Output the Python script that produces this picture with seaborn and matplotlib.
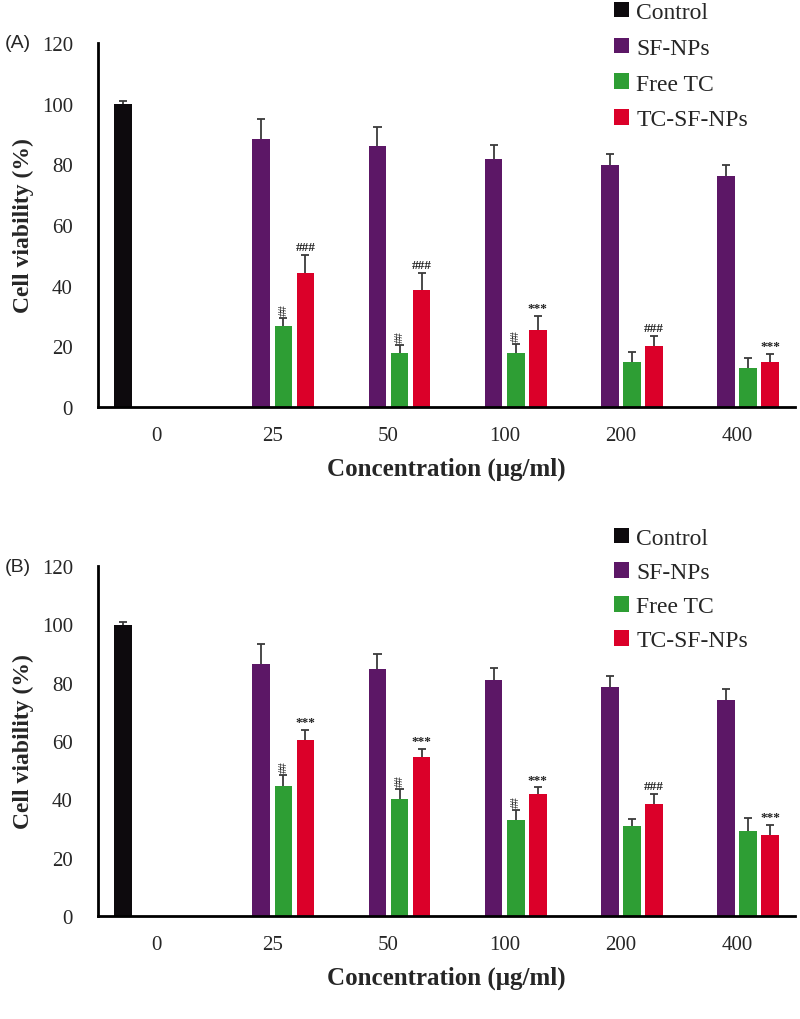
import matplotlib
matplotlib.use("Agg")
import matplotlib.pyplot as plt
import numpy as np
import pandas as pd
import seaborn as sns

concentrations = ["0", "25", "50", "100", "200", "400"]
groups = ["Control", "SF-NPs", "Free TC", "TC-SF-NPs"]
colors = ["#0d0a0d", "#5c1766", "#2e9e34", "#db0029"]

# panel A
a_control = [99.7]
a_control_err = [1.3]
a_sf = [88.4, 86.0, 81.8, 79.6, 76.2]
a_sf_err = [6.5, 6.2, 4.7, 3.9, 3.6]
a_free = [26.8, 17.8, 17.8, 14.8, 12.8]
a_free_err = [2.4, 2.5, 3.0, 3.3, 3.2]
a_tcsf = [44.0, 38.6, 25.5, 20.2, 14.8]
a_tcsf_err = [6.0, 5.5, 4.5, 3.3, 2.8]
a_free_marks = ["##", "##", "##", "", ""]
a_tcsf_marks = ["###", "###", "***", "###", "***"]

# panel B
b_control = [99.9]
b_control_err = [1.1]
b_sf = [86.4, 84.7, 80.9, 78.6, 74.2]
b_sf_err = [6.8, 5.3, 4.0, 3.8, 3.6]
b_free = [44.7, 40.1, 33.0, 31.0, 29.0]
b_free_err = [3.6, 3.4, 3.3, 2.2, 4.6]
b_tcsf = [60.4, 54.4, 41.8, 38.4, 27.9]
b_tcsf_err = [3.5, 2.9, 2.3, 3.4, 3.4]
b_free_marks = ["##", "##", "##", "", ""]
b_tcsf_marks = ["***", "***", "***", "###", "***"]

SERIF = "Liberation Serif"


def build_frame(control, control_err, sf, sf_err, free, free_err, tcsf, tcsf_err):
    rows = [("0", "Control", control[0], control_err[0])]
    for vals, errs, name in [(sf, sf_err, "SF-NPs"), (free, free_err, "Free TC"),
                             (tcsf, tcsf_err, "TC-SF-NPs")]:
        for c, v, e in zip(concentrations[1:], vals, errs):
            rows.append((c, name, v, e))
    return pd.DataFrame(rows, columns=["conc", "group", "viability", "err"])


def draw_panel(ax, df, free_marks, tcsf_marks, legend_top, legend_gap):
    sns.barplot(data=df, x="conc", y="viability", hue="group", order=concentrations,
                hue_order=groups, palette=colors, width=0.76, gap=0.2,
                errorbar=None, saturation=1, linewidth=0, ax=ax)

    for group, cont in zip(groups, ax.containers):
        sub = df[df["group"] == group]
        for bar in cont:
            xc = bar.get_x() + bar.get_width() / 2
            h = bar.get_height()
            conc = concentrations[int(round(xc))]
            e = sub.loc[sub["conc"] == conc, "err"].iloc[0]
            # upper-only error bar with a single cap
            ax.vlines(xc, h, h + e, color="#3a3a3a", lw=1.3, zorder=3)
            ax.hlines(h + e, xc - 0.035, xc + 0.035, color="#3a3a3a", lw=1.3, zorder=3)
            i = concentrations.index(conc) - 1
            if group == "Free TC" and free_marks[i]:
                ax.text(xc, h + e + 1.0, free_marks[i], rotation=90, ha="center",
                        va="bottom", fontsize=8.5, family=SERIF, color="#222222")
            if group == "TC-SF-NPs" and tcsf_marks[i]:
                ax.text(xc, h + e + 0.6, tcsf_marks[i], ha="center", va="bottom",
                        fontsize=9.5, family=SERIF, color="#222222", fontweight="bold")

    ax.set_ylim(0, 120)
    ax.set_yticks(range(0, 121, 20))
    ax.set_xlim(-0.5, 5.5)
    ax.tick_params(length=0, labelsize=15)
    for lab in ax.get_xticklabels() + ax.get_yticklabels():
        lab.set_family(SERIF)
    ax.tick_params(axis="x", pad=14)
    ax.tick_params(axis="y", pad=18)
    ax.set_xlabel("Concentration (μg/ml)", fontsize=18, fontweight="bold",
                  family=SERIF, labelpad=8)
    ax.set_ylabel("Cell viability (%)", fontsize=17, fontweight="bold",
                  family=SERIF, labelpad=6)
    sns.despine(ax=ax)
    for side in ["left", "bottom"]:
        ax.spines[side].set_linewidth(2)
        ax.spines[side].set_color("black")

    sns.move_legend(ax, "upper left", bbox_to_anchor=(0.74, legend_top), frameon=False,
                    title=None, prop={"family": SERIF, "size": 17},
                    handlelength=0.65, handleheight=0.65, handletextpad=0.3,
                    labelspacing=legend_gap, borderaxespad=0, borderpad=0)


sns.set_style("white")
fig = plt.figure(figsize=(8, 10.2), dpi=100)
ax_a = fig.add_axes([0.1225, 0.6, 0.8715, 0.357])
ax_b = fig.add_axes([0.1225, 0.101, 0.8715, 0.343])

df_a = build_frame(a_control, a_control_err, a_sf, a_sf_err, a_free, a_free_err,
                   a_tcsf, a_tcsf_err)
df_b = build_frame(b_control, b_control_err, b_sf, b_sf_err, b_free, b_free_err,
                   b_tcsf, b_tcsf_err)

draw_panel(ax_a, df_a, a_free_marks, a_tcsf_marks, 1.113, 0.62)
draw_panel(ax_b, df_b, b_free_marks, b_tcsf_marks, 1.11, 0.55)

fig.text(0.006, 1 - 44 / 1020, "(A)", fontsize=14, family="Liberation Sans", va="center")
fig.text(0.006, 1 - 567 / 1020, "(B)", fontsize=14, family="Liberation Sans", va="center")

fig.savefig("out.png", dpi=100)
